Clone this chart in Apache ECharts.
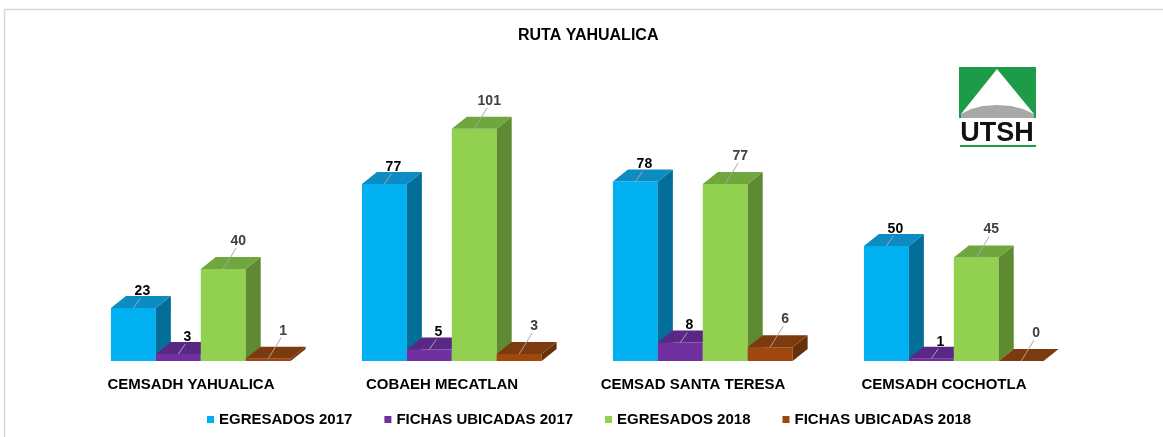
<!DOCTYPE html>
<html>
<head>
<meta charset="utf-8">
<title>RUTA YAHUALICA</title>
<script src="https://cdn.jsdelivr.net/npm/echarts@6/dist/echarts.min.js"></script>
<style>
  html, body { margin: 0; padding: 0; background: #fff; }
  #chart { width: 1163px; height: 437px; }
</style>
</head>
<body>
<div id="chart"></div>
<script>
// data
const categories = ['CEMSADH YAHUALICA', 'COBAEH MECATLAN', 'CEMSAD SANTA TERESA', 'CEMSADH COCHOTLA']
const seriesNames = ['EGRESADOS 2017', 'FICHAS UBICADAS 2017', 'EGRESADOS 2018', 'FICHAS UBICADAS 2018']
const egresados2017 = [23, 77, 78, 50]
const fichas2017 = [3, 5, 8, 1]
const egresados2018 = [40, 101, 77, 45]
const fichas2018 = [1, 3, 6, 0]

const seriesValues = [egresados2017, fichas2017, egresados2018, fichas2018]

// front / top / side shades of each 3d bar
const faces = [
  { front: '#00B0F0', top: '#0C8CC2', side: '#036E97' },
  { front: '#7030A0', top: '#5A2787', side: '#4B1F70' },
  { front: '#92D050', top: '#70A63E', side: '#5E8A32' },
  { front: '#9E480E', top: '#7C3A0E', side: '#65300A' },
]
const labelColors = ['#000000', '#000000', '#404040', '#404040']
const FONT = '"Liberation Sans", Arial, sans-serif'
const DX = 15
const DY = 12

function renderBar(idx) {
  return function (params, api) {
    const cat = api.value(0)
    const val = api.value(1)
    const base = api.coord([cat, 0])
    const top = api.coord([cat, val])
    const band = api.size([1, 0])[0]
    const bw = band * 0.179
    const x0 = base[0] - band * 0.319 + idx * bw
    const x1 = x0 + bw
    const yT = top[1]
    const yB = base[1]
    const f = faces[idx]
    const fc = x0 + bw / 2
    const far = idx >= 2
    const lx = fc + (far ? 15 : 9)
    const ly = yT - (far ? 28 : 17)

    return {
      type: 'group',
      children: [
        {
          type: 'rect',
          shape: { x: x0, y: yT, width: bw, height: yB - yT },
          style: { fill: f.front },
        },
        {
          type: 'polygon',
          shape: { points: [[x1, yT], [x1 + DX, yT - DY], [x1 + DX, yB - DY], [x1, yB]] },
          style: { fill: f.side },
        },
        {
          type: 'polygon',
          shape: { points: [[x0, yT], [x0 + DX, yT - DY], [x1 + DX, yT - DY], [x1, yT]] },
          style: { fill: f.top },
        },
        {
          type: 'line',
          shape: { x1: fc, y1: yT, x2: lx - 2, y2: ly + 7 },
          style: { stroke: '#a6a6a6', lineWidth: 1 },
        },
        {
          type: 'text',
          style: {
            text: String(val),
            x: lx,
            y: ly,
            align: 'center',
            verticalAlign: 'middle',
            font: 'bold 14px ' + FONT,
            fill: labelColors[idx],
          },
        },
      ],
    }
  }
}

const chart = echarts.init(document.getElementById('chart'))

chart.setOption({
  animation: false,
  title: {
    text: 'RUTA YAHUALICA',
    left: 513,
    top: 23,
    textStyle: { fontFamily: FONT, fontSize: 16, fontWeight: 'bold', color: '#000' },
  },
  legend: {
    data: seriesNames,
    top: 407,
    left: 202,
    icon: 'rect',
    itemWidth: 7,
    itemHeight: 7,
    itemGap: 32,
    selectedMode: false,
    textStyle: { fontFamily: FONT, fontSize: 15, fontWeight: 'bold', color: '#000' },
  },
  grid: {
    left: 65.5,
    right: 93.5,
    top: 85,
    bottom: 76,
    outerBoundsMode: 'none',
  },
  xAxis: {
    type: 'category',
    data: categories,
    axisLine: { show: false },
    axisTick: { show: false },
    axisLabel: {
      interval: 0,
      margin: 16,
      color: '#000',
      fontFamily: FONT,
      fontSize: 15,
      fontWeight: 'bold',
    },
  },
  yAxis: {
    type: 'value',
    min: 0,
    max: 120,
    show: false,
  },
  graphic: [
    {
      type: 'rect',
      shape: { x: 4.5, y: 9.5, width: 1200, height: 500 },
      style: { fill: 'none', stroke: '#d6d6d6', lineWidth: 1.5 },
      silent: true,
    },
    // UTSH logo
    {
      type: 'group',
      left: 959,
      top: 67,
      children: [
        { type: 'rect', shape: { x: 0, y: 0, width: 77, height: 51 }, style: { fill: '#1E9B48' } },
        { type: 'polygon', shape: { points: [[38, 2], [2, 47], [75, 47]] }, style: { fill: '#ffffff' } },
        {
          type: 'polygon',
          shape: { points: [[2, 47], [12, 42], [24, 39], [38, 38], [52, 39], [64, 42], [75, 47], [75, 51], [2, 51]] },
          style: { fill: '#a8a8a8' },
        },
        {
          type: 'text',
          style: { text: 'UTSH', x: 38, y: 53, align: 'center', verticalAlign: 'top', font: 'bold 27px ' + FONT, fill: '#111' },
        },
        { type: 'rect', shape: { x: 1, y: 78, width: 76, height: 2 }, style: { fill: '#1E9B48' } },
      ],
    },
  ],
  series: seriesValues.map((vals, i) => ({
    type: 'custom',
    name: seriesNames[i],
    renderItem: renderBar(i),
    itemStyle: { color: faces[i].front },
    encode: { x: 0, y: 1 },
    data: vals.map((v, c) => [c, v]),
  })),
})
</script>
</body>
</html>
